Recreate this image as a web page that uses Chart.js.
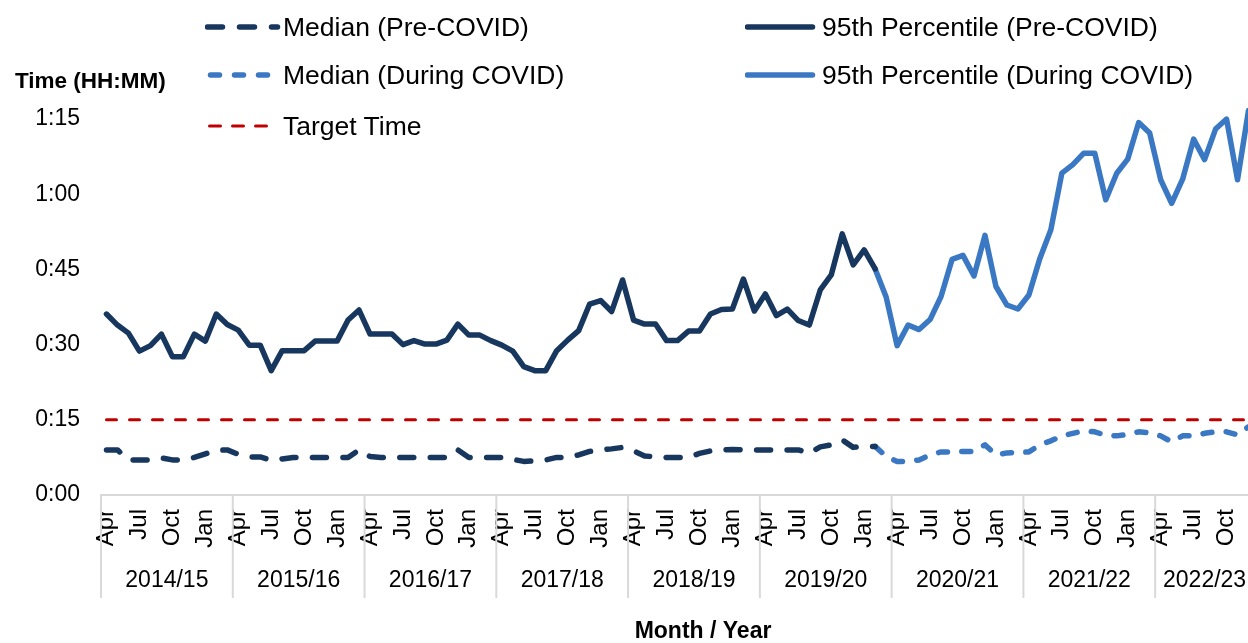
<!DOCTYPE html>
<html>
<head>
<meta charset="utf-8">
<script src="https://cdn.jsdelivr.net/npm/chart.js@4.4.1/dist/chart.umd.min.js"></script>
<style>
  html, body { margin: 0; padding: 0; background: #fff; overflow: hidden; }
  #wrap { position: relative; width: 1248px; height: 643px; overflow: hidden; }
  #chart { position: absolute; left: 0; top: 0; }
  .lg { position: absolute; height: 30px; line-height: 30px; display: flex; align-items: center;
        font-family: 'Liberation Sans', Arial, sans-serif; font-size: 26.5px; color: #000; white-space: nowrap; }
  .lg svg { flex: none; }
  #ytitle { position: absolute; left: 15px; top: 68px; font-family: 'Liberation Sans', Arial, sans-serif;
            font-weight: bold; font-size: 22.5px; color: #000; white-space: nowrap; }
</style>
</head>
<body>
<div id="wrap">
  <canvas id="chart" width="1260" height="643"></canvas>
  <div id="ytitle">Time (HH:MM)</div>
  <div class="lg" style="left:205px; top:12px;">
    <svg width="78" height="12"><line x1="2.5" y1="6" x2="72.5" y2="6" stroke="#17375e" stroke-width="5.5" stroke-linecap="round" stroke-dasharray="15 17"/></svg>Median (Pre-COVID)</div>
  <div class="lg" style="left:745px; top:12px;">
    <svg width="77" height="12"><line x1="2.5" y1="6" x2="67.5" y2="6" stroke="#17375e" stroke-width="5.5" stroke-linecap="round"/></svg>95th Percentile (Pre-COVID)</div>
  <div class="lg" style="left:205px; top:60px;">
    <svg width="78" height="12"><line x1="5.5" y1="6" x2="66.5" y2="6" stroke="#3b78c3" stroke-width="5.5" stroke-linecap="round" stroke-dasharray="9 15"/></svg>Median (During COVID)</div>
  <div class="lg" style="left:745px; top:60px;">
    <svg width="77" height="12"><line x1="2.5" y1="6" x2="67.5" y2="6" stroke="#3b78c3" stroke-width="5.5" stroke-linecap="round"/></svg>95th Percentile (During COVID)</div>
  <div class="lg" style="left:205px; top:111px;">
    <svg width="78" height="12"><line x1="4.5" y1="6" x2="61.5" y2="6" stroke="#c00000" stroke-width="3" stroke-linecap="round" stroke-dasharray="11 12"/></svg>Target Time</div>
</div>
<script>
// financial years and how many months of each are shown
const yearLabels = ['2014/15', '2015/16', '2016/17', '2017/18', '2018/19', '2019/20', '2020/21', '2021/22', '2022/23'];
const monthsInYear = [12, 12, 12, 12, 12, 12, 12, 12, 9];
const fiscalMonths = ['Apr', 'May', 'Jun', 'Jul', 'Aug', 'Sep', 'Oct', 'Nov', 'Dec', 'Jan', 'Feb', 'Mar'];

// y axis ticks, minutes
const yTicks = [0, 15, 30, 45, 60, 75];
const targetMinutes = 15;

// 95th percentile, minutes: Apr 2014 - Feb 2020
const p95PreCovid = [
  36.1, 33.9, 32.3, 28.7, 29.8, 32.1, 27.6, 27.6, 32.1, 30.7, 36.1, 34.0,
  32.9, 29.9, 29.9, 24.8, 28.8, 28.8, 28.8, 30.7, 30.7, 30.7, 34.9, 36.9,
  32.1, 32.1, 32.1, 30.0, 30.8, 30.1, 30.1, 30.9, 34.1, 31.9, 31.9, 30.8,
  29.9, 28.7, 25.6, 24.8, 24.8, 28.8, 30.9, 32.8, 38.1, 38.8, 36.6, 42.9,
  34.9, 34.1, 34.1, 30.8, 30.8, 32.7, 32.7, 36.1, 37.0, 37.1, 43.1, 36.7,
  40.1, 35.8, 37.1, 34.8, 33.9, 40.9, 43.9, 52.1, 45.9, 48.9, 45.1
];
// 95th percentile, minutes: Feb 2020 - Dec 2022
const p95DuringCovid = [
  45.1, 39.5,
  29.8, 33.9, 33.0, 35.0, 39.6, 47.0, 47.8, 43.7, 51.8, 41.6, 37.9, 37.1,
  39.9, 47.2, 52.9, 64.2, 65.9, 68.2, 68.2, 58.9, 64.2, 67.0, 74.3, 72.2,
  62.9, 58.2, 63.0, 71.0, 66.9, 73.0, 75.0, 62.9, 76.7
];
// median, minutes: Apr 2014 - Feb 2020
const medianPreCovid = [
  9.0, 9.0, 7.0, 7.0, 7.0, 7.4, 7.0, 7.0, 7.5, 8.2, 8.9, 9.0,
  8.1, 7.6, 7.6, 6.9, 7.2, 7.5, 7.5, 7.5, 7.5, 7.5, 7.5, 9.0,
  7.7, 7.5, 7.5, 7.5, 7.5, 7.5, 7.5, 7.5, 9.0, 7.5, 7.5, 7.5,
  7.5, 7.1, 6.7, 6.8, 7.0, 7.5, 7.5, 8.0, 8.7, 9.0, 9.2, 9.5,
  8.8, 7.8, 7.6, 7.5, 7.5, 7.5, 8.3, 8.8, 9.0, 9.1, 9.0, 9.0,
  9.0, 9.0, 9.0, 9.0, 8.3, 9.6, 10.0, 11.0, 9.5, 9.7, 9.7
];
// median, minutes: Feb 2020 - Dec 2022
const medianDuringCovid = [
  9.7, 7.7,
  6.7, 6.7, 7.0, 8.0, 8.6, 8.6, 8.7, 8.7, 10.0, 8.0, 8.4, 8.5,
  8.6, 10.0, 10.8, 11.8, 12.3, 12.8, 12.6, 11.9, 11.8, 12.1, 12.6, 12.4,
  11.8, 10.6, 11.8, 11.8, 12.3, 12.6, 12.6, 12.0, 13.6
];

const monthLabels = [];
monthsInYear.forEach(n => { for (let i = 0; i < n; i++) monthLabels.push(fiscalMonths[i]); });
const total = monthLabels.length;
const covidStart = p95PreCovid.length - 1;

function padSeries(values, start) {
  const out = new Array(total).fill(null);
  values.forEach((v, i) => { out[start + i] = v; });
  return out;
}

function fmtTime(m) {
  return Math.floor(m / 60) + ':' + String(Math.round(m % 60)).padStart(2, '0');
}

const FONT = "'Liberation Sans', Arial, sans-serif";

// draws the year row and axis title under the month labels
const yearRow = {
  id: 'yearRow',
  afterDraw(chart) {
    const { ctx, chartArea, scales: { x } } = chart;
    const half = (x.getPixelForValue(1) - x.getPixelForValue(0)) / 2;
    const top = chartArea.bottom;
    ctx.save();
    ctx.strokeStyle = '#d9d9d9';
    ctx.lineWidth = 2;
    ctx.fillStyle = '#000';
    ctx.font = '23px ' + FONT;
    ctx.textAlign = 'center';
    ctx.textBaseline = 'middle';
    let start = 0;
    let x1 = 0;
    yearLabels.forEach((yr, k) => {
      const x0 = x.getPixelForValue(start) - half;
      x1 = x.getPixelForValue(start + monthsInYear[k] - 1) + half;
      ctx.beginPath();
      ctx.moveTo(x0, top);
      ctx.lineTo(x0, top + 103);
      ctx.stroke();
      ctx.fillText(yr, (x0 + x1) / 2, top + 86);
      start += monthsInYear[k];
    });
    ctx.beginPath();
    ctx.moveTo(x1, top);
    ctx.lineTo(x1, top + 103);
    ctx.stroke();
    ctx.font = 'bold 23px ' + FONT;
    ctx.fillText('Month / Year', 703, top + 137);
    ctx.restore();
  }
};

new Chart(document.getElementById('chart'), {
  type: 'line',
  data: {
    labels: monthLabels,
    datasets: [
      {
        label: 'Median (Pre-COVID)',
        data: padSeries(medianPreCovid, 0),
        borderColor: '#17375e',
        borderWidth: 5.5,
        borderDash: [14, 16.5],
        borderCapStyle: 'round',
        borderJoinStyle: 'round',
        pointRadius: 0,
        tension: 0
      },
      {
        label: '95th Percentile (Pre-COVID)',
        data: padSeries(p95PreCovid, 0),
        borderColor: '#17375e',
        borderWidth: 5.5,
        borderCapStyle: 'round',
        borderJoinStyle: 'round',
        pointRadius: 0,
        tension: 0
      },
      {
        label: 'Median (During COVID)',
        data: padSeries(medianDuringCovid, covidStart),
        borderColor: '#3b78c3',
        borderWidth: 5.5,
        borderDash: [9, 14.3],
        borderCapStyle: 'round',
        borderJoinStyle: 'round',
        pointRadius: 0,
        tension: 0
      },
      {
        label: '95th Percentile (During COVID)',
        data: padSeries(p95DuringCovid, covidStart),
        borderColor: '#3b78c3',
        borderWidth: 5.5,
        borderCapStyle: 'round',
        borderJoinStyle: 'round',
        pointRadius: 0,
        tension: 0
      },
      {
        label: 'Target Time',
        data: new Array(total).fill(targetMinutes),
        borderColor: '#c00000',
        borderWidth: 3,
        borderDash: [10, 13],
        borderCapStyle: 'round',
        pointRadius: 0,
        tension: 0
      }
    ]
  },
  options: {
    responsive: false,
    animation: false,
    devicePixelRatio: 1,
    layout: { padding: { top: 94, left: 0, right: 6, bottom: 0 } },
    plugins: {
      legend: { display: false },
      tooltip: { enabled: false }
    },
    scales: {
      x: {
        type: 'category',
        offset: true,
        afterFit: s => { s.height = 148; s.paddingLeft = 0; s.paddingRight = 0; },
        grid: { display: false, drawTicks: false },
        border: { display: true, color: '#d9d9d9', width: 2 },
        ticks: {
          autoSkip: false,
          minRotation: 90,
          maxRotation: 90,
          padding: 14,
          color: '#000',
          font: { family: FONT, size: 24 },
          callback: (v, i) => (i % 3 === 0 ? monthLabels[i] : '')
        }
      },
      y: {
        min: 0,
        max: 80,
        afterFit: s => { s.width = 101; },
        afterBuildTicks: s => { s.ticks = yTicks.map(v => ({ value: v })); },
        grid: { display: false, drawTicks: false },
        border: { display: false },
        ticks: {
          padding: 21,
          color: '#000',
          font: { family: FONT, size: 23 },
          callback: v => fmtTime(v)
        }
      }
    }
  },
  plugins: [yearRow]
});
</script>
</body>
</html>
